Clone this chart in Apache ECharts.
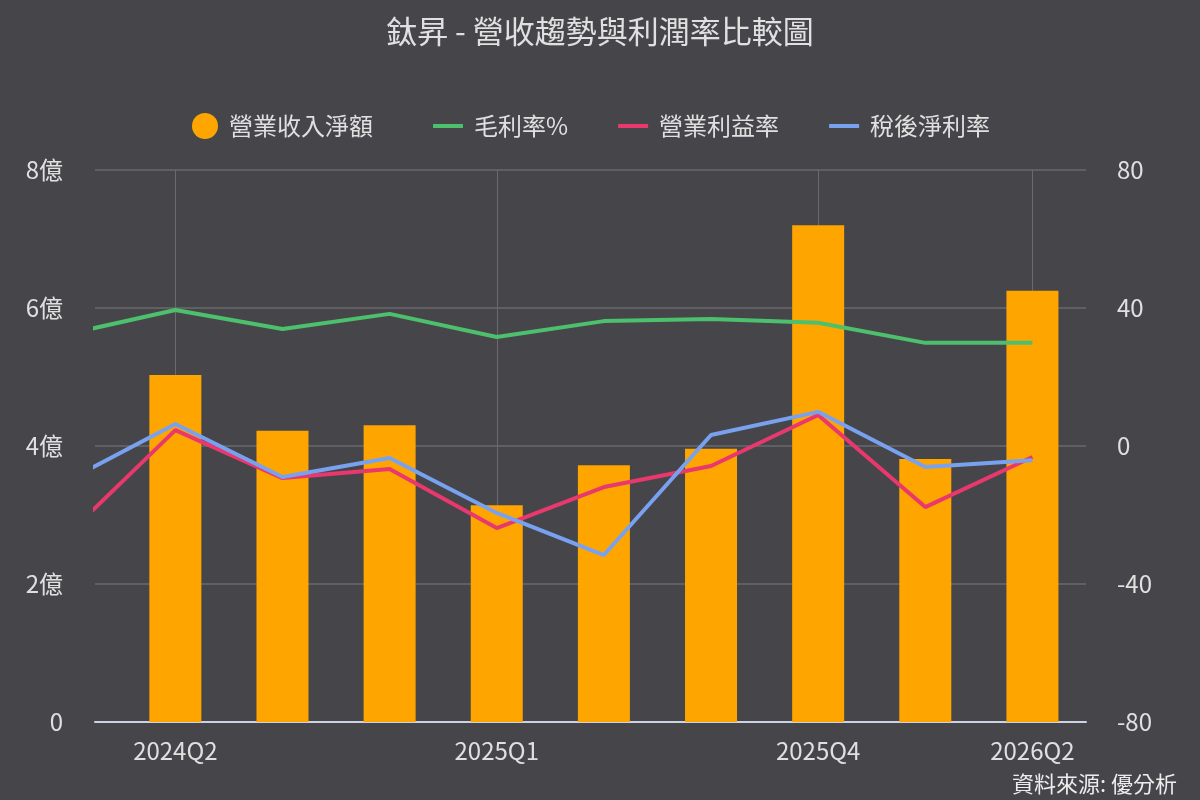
<!DOCTYPE html>
<html lang="zh-Hant">
<head>
    <meta charset="UTF-8">
    <script type="text/javascript" src="https://cdn.jsdelivr.net/npm/echarts@6/dist/echarts.min.js"></script>
    <title>鈦昇 - 營收趨勢與利潤率比較圖</title>
    <style>
        html, body { margin: 0; padding: 0; background: #46464a; }
    </style>
</head>
<body>
<div id="chart" style="width: 1200px;height:800px;"></div>
<script type="text/javascript">
    // 季度 (第一季只用來讓折線從左邊延伸進來)
    var quarters = ['2024Q1', '2024Q2', '2024Q3', '2024Q4', '2025Q1', '2025Q2', '2025Q3', '2025Q4', '2026Q1', '2026Q2'];
    // 營業收入淨額 (億)
    var revenue = [null, 5.03, 4.22, 4.30, 3.14, 3.72, 3.96, 7.20, 3.81, 6.25];
    // 毛利率 %
    var grossMargin = [32.5, 39.4, 33.9, 38.3, 31.6, 36.2, 36.8, 35.7, 29.9, 29.9];
    // 營業利益率 %
    var opMargin = [-25.5, 4.6, -9.3, -6.7, -23.8, -11.9, -5.8, 9.0, -17.7, -3.2];
    // 稅後淨利率 %
    var netMargin = [-9.9, 6.4, -9.0, -3.5, -19.4, -31.6, 3.2, 9.9, -6.1, -4.1];
    // 顯示的 x 軸標籤
    var labelQuarters = ['2024Q2', '2025Q1', '2025Q4', '2026Q2'];

    function toPairs(arr) {
        var out = [];
        for (var i = 0; i < arr.length; i++) {
            if (arr[i] !== null) out.push([i - 1, arr[i]]);
        }
        return out;
    }
    var labelPos = labelQuarters.map(function (q) { return quarters.indexOf(q) - 1; });

    var font = '"Noto Sans CJK TC", "Noto Sans", sans-serif';
    var textColor = '#e0e0e0';
    var chart = echarts.init(document.getElementById('chart'));

    chart.setOption({
        backgroundColor: '#46464a',
        textStyle: { fontFamily: font },
        title: [{
            text: '鈦昇 - 營收趨勢與利潤率比較圖',
            left: 'center',
            top: 11,
            textStyle: { color: textColor, fontSize: 31, fontWeight: 'normal', fontFamily: font }
        }, {
            text: '資料來源: 優分析',
            right: 18,
            bottom: 0,
            textStyle: { color: '#ececec', fontSize: 22, fontWeight: 'normal', fontFamily: font }
        }],
        legend: [{
            top: 108,
            left: 187,
            itemWidth: 26,
            itemHeight: 26,
            textStyle: { color: textColor, fontSize: 24, lineHeight: 26, padding: [0, 0, 0, 6], fontFamily: font },
            data: [{ name: '營業收入淨額', icon: 'circle' }]
        }, {
            top: 108,
            left: 428,
            itemGap: 50,
            itemWidth: 30,
            itemHeight: 4,
            icon: 'rect',
            textStyle: { color: textColor, fontSize: 24, lineHeight: 26, padding: [0, 0, 0, 6], fontFamily: font },
            data: ['毛利率%', '營業利益率', '稅後淨利率']
        }],
        grid: { left: 95, right: 114, top: 170, bottom: 78 },
        xAxis: {
            type: 'value',
            min: -0.75,
            max: 8.5,
            axisLine: { show: true, onZero: false, lineStyle: { color: '#cdd3e0', width: 2 } },
            axisTick: { show: false, customValues: labelPos },
            axisLabel: {
                customValues: labelPos,
                color: textColor,
                fontSize: 24,
                margin: 17,
                formatter: function (v) { return quarters[Math.round(v) + 1]; }
            },
            splitLine: { show: true, lineStyle: { color: '#6a6a6e', width: 1 } }
        },
        yAxis: [{
            type: 'value',
            min: 0,
            max: 8,
            interval: 2,
            axisLine: { show: false },
            axisTick: { show: false },
            axisLabel: {
                color: textColor,
                fontSize: 24,
                margin: 32,
                formatter: function (v) { return v === 0 ? '0' : v + '億'; }
            },
            splitLine: { lineStyle: { color: '#6a6a6e', width: 1.5 } }
        }, {
            type: 'value',
            min: -80,
            max: 80,
            interval: 40,
            axisLine: { show: false },
            axisTick: { show: false },
            axisLabel: { color: textColor, fontSize: 24, margin: 31 },
            splitLine: { show: false }
        }],
        series: [{
            name: '營業收入淨額',
            type: 'bar',
            barWidth: 52,
            itemStyle: { color: '#ffa500' },
            data: toPairs(revenue)
        }, {
            name: '毛利率%',
            type: 'line',
            yAxisIndex: 1,
            symbol: 'none',
            lineStyle: { color: '#4cc06c', width: 4 },
            itemStyle: { color: '#4cc06c' },
            data: toPairs(grossMargin)
        }, {
            name: '營業利益率',
            type: 'line',
            yAxisIndex: 1,
            symbol: 'none',
            lineStyle: { color: '#e8386e', width: 4 },
            itemStyle: { color: '#e8386e' },
            data: toPairs(opMargin)
        }, {
            name: '稅後淨利率',
            type: 'line',
            yAxisIndex: 1,
            symbol: 'none',
            lineStyle: { color: '#78a2f0', width: 4 },
            itemStyle: { color: '#78a2f0' },
            data: toPairs(netMargin)
        }]
    });
</script>
</body>
</html>
